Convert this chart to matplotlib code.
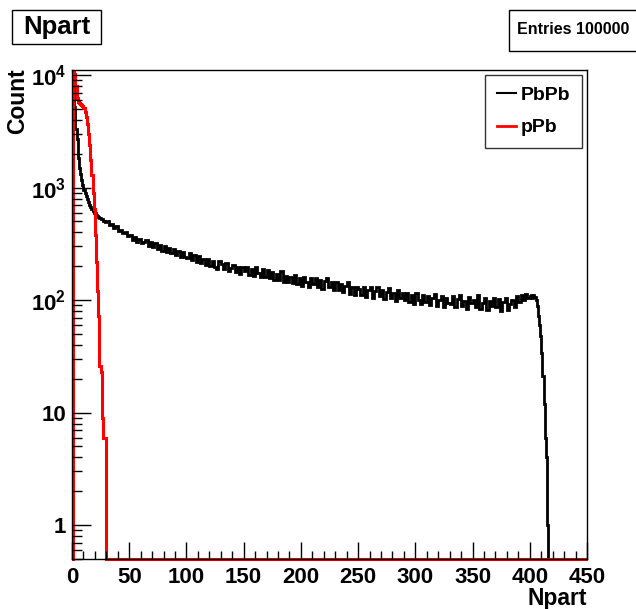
import numpy as np
import matplotlib.pyplot as plt
from matplotlib.patches import Rectangle
from matplotlib.lines import Line2D

plt.rcParams['font.family'] = ['Liberation Sans', 'DejaVu Sans']
plt.rcParams['font.weight'] = 'bold'
plt.rcParams['mathtext.fontset'] = 'custom'
plt.rcParams['mathtext.rm'] = 'Liberation Sans:bold'
plt.rcParams['mathtext.bf'] = 'Liberation Sans:bold'
plt.rcParams['mathtext.default'] = 'bf'

# pPb : bins of width 1 from 0 to 30, then empty up to 450
ppb_counts = [0, 10900, 10300, 8000, 6300, 5800, 5650, 5550, 5450, 5300,
              5100, 4700, 4200, 3700, 3000, 2400, 1750, 1300, 900, 640,
              380, 220, 120, 72, 26, 23, 9, 6, 6, 6,
              0]
ppb_edges = list(range(0, 31)) + [450]

# PbPb : width 1 for 0-30, width 2 for 30-400, width 1 for 400-420, empty to 450
pbpb_low = [0, 9000, 5200, 3300, 2700, 1850, 1500, 1330, 1170, 1060,
            960, 900, 840, 790, 745, 700, 675, 645, 625, 600,
            590, 572, 565, 548, 540, 528, 522, 508, 500, 497]
pbpb_mid = [505, 468, 470, 440, 458, 415, 418, 392, 402, 370,
            382, 342, 366, 330, 352, 322, 330, 342, 304, 326,
            298, 322, 284, 308, 276, 300, 270, 290, 262, 284,
            252, 276, 244, 270, 240, 236, 262, 226, 250, 220,
            246, 212, 232, 204, 234, 200, 222, 198, 188, 222,
            210, 188, 214, 180, 192, 206, 176, 198, 172, 196,
            180, 198, 168, 190, 164, 196, 174, 162, 190, 160,
            186, 158, 176, 150, 172, 150, 182, 146, 164, 144,
            162, 142, 166, 138, 156, 134, 162, 144, 132, 158,
            138, 158, 132, 152, 126, 148, 156, 130, 146, 124,
            144, 122, 138, 118, 134, 144, 114, 132, 112, 132,
            126, 110, 132, 106, 122, 130, 104, 120, 132, 108,
            124, 102, 118, 128, 104, 116, 98, 124, 104, 116,
            100, 116, 96, 112, 92, 116, 100, 92, 112, 96,
            108, 90, 104, 114, 88, 100, 108, 86, 104, 94,
            92, 108, 86, 102, 112, 88, 98, 84, 106, 94,
            100, 86, 110, 84, 94, 104, 82, 98, 88, 104,
            86, 102, 80, 96, 104, 82, 92, 100, 86, 108,
            96, 112, 100, 114, 104]
pbpb_high = [108, 112, 104, 110, 106, 100, 88, 72, 60, 48,
             34, 21, 12, 6, 4, 1, 0, 0, 0, 0,
             0]
pbpb_counts = pbpb_low + pbpb_mid + pbpb_high
pbpb_edges = list(range(0, 30)) + list(range(30, 400, 2)) + list(range(400, 421)) + [450]

entries = 100000
ymin, ymax = 0.5, 11100

W, H = 636, 609
fig = plt.figure(figsize=(W / 100, H / 100), dpi=100)
ax = fig.add_axes([72 / W, 1 - 559 / H, 515 / W, 489 / H])

def floor(c):
    c = np.array(c, dtype=float)
    return np.where(c > 0, c, ymin)

ax.stairs(floor(pbpb_counts), pbpb_edges, baseline=ymin, color='black', lw=2.0, clip_on=False)
ax.stairs(floor(ppb_counts), ppb_edges, baseline=ymin, color='red', lw=2.2, clip_on=False)

ax.set_yscale('log')
ax.set_xlim(0, 450)
ax.set_ylim(ymin, ymax)

ax.set_xticks(np.arange(0, 451, 50))
ax.set_xticks(np.arange(0, 451, 10), minor=True)
ax.set_xticklabels([str(v) for v in range(0, 451, 50)])
ax.set_yticks([1, 10, 100, 1000, 10000])
ax.set_yticklabels(['1', '10', r'$10^{2}$', r'$10^{3}$', r'$10^{4}$'])
minor_y = [m * 10 ** e for e in range(-1, 4) for m in range(2, 10)]
ax.set_yticks([v for v in minor_y if ymin <= v <= ymax], minor=True)
ax.yaxis.set_minor_formatter(plt.NullFormatter())

ax.tick_params(which='both', direction='in', top=False, right=False, width=1)
ax.tick_params(axis='x', which='major', length=12, labelsize=16, pad=6)
ax.tick_params(axis='x', which='minor', length=6)
ax.tick_params(axis='y', which='major', length=14, labelsize=16, pad=4)
ax.tick_params(axis='y', which='minor', length=7)
for s in ax.spines.values():
    s.set_linewidth(1)

fig.text(587 / W, 1 - 599 / H, 'Npart', ha='right', va='center', fontsize=16.5, fontweight='bold')
fig.text(18 / W, 1 - 68 / H, 'Count', rotation=90, ha='center', va='top', fontsize=16.5, fontweight='bold')

# title box
fig.add_artist(Rectangle((12 / W, 1 - 44 / H), 89 / W, 34 / H, transform=fig.transFigure,
                         facecolor='white', edgecolor='black', lw=1))
fig.text(56.5 / W, 1 - 27 / H, 'Npart', ha='center', va='center', fontsize=18.5, fontweight='bold')

# stats box
fig.add_artist(Rectangle((509 / W, 1 - 51 / H), 140 / W, 41 / H, transform=fig.transFigure,
                         facecolor='white', edgecolor='black', lw=1, clip_on=False))
fig.text(517 / W, 1 - 30 / H, 'Entries %d' % entries, ha='left', va='center', fontsize=11.5, fontweight='bold')

handles = [Line2D([], [], color='black', lw=1.5), Line2D([], [], color='red', lw=2)]
leg = ax.legend(handles, ['PbPb', 'pPb'], loc='upper left', bbox_to_anchor=(0.802, 0.99),
                fontsize=14, frameon=True, fancybox=False, handlelength=1.0,
                handletextpad=0.25, borderpad=0.6, labelspacing=0.75, borderaxespad=0)
leg.get_frame().set_edgecolor('black')
leg.get_frame().set_linewidth(1)

fig.savefig('out.png', dpi=100)
